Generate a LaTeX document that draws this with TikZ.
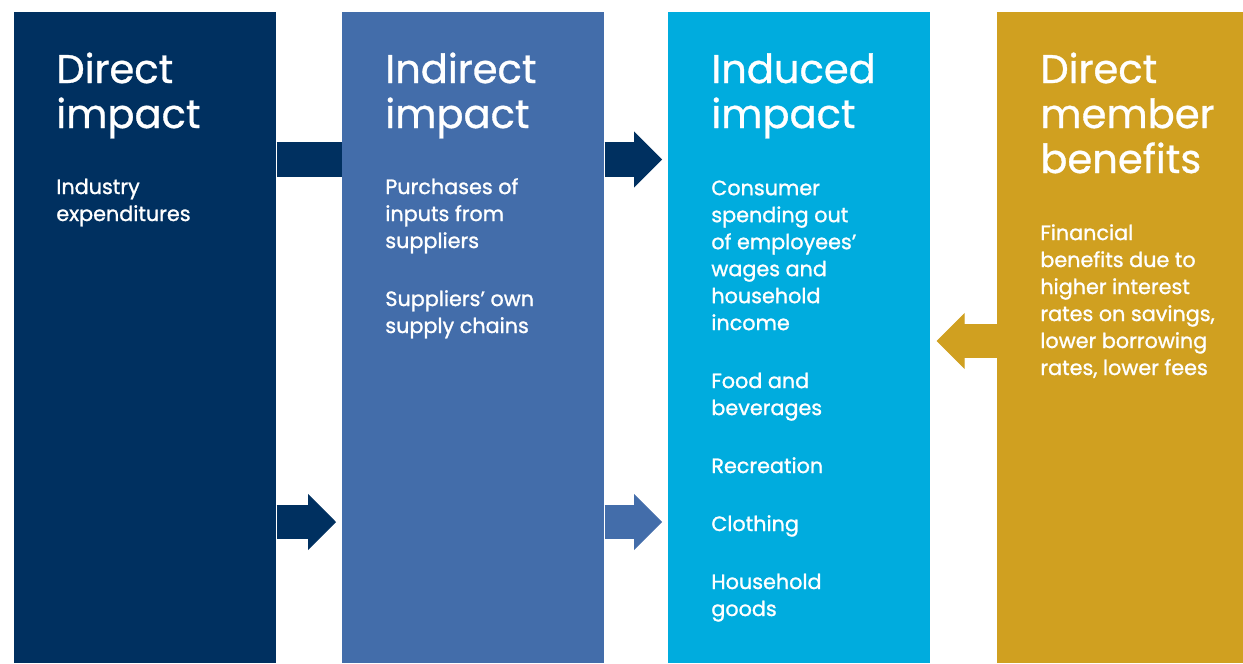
\documentclass[tikz,border=0pt]{standalone}
\usepackage{fontspec}
\setmainfont{Poppins}[FakeBold=0.8]
\newfontfamily\bodyfont{Poppins}[FakeBold=1.2]
\usetikzlibrary{arrows.meta}
\definecolor{navy}{RGB}{0,48,96}
\definecolor{midblue}{RGB}{67,109,170}
\definecolor{cyanblue}{RGB}{0,172,222}
\definecolor{gold}{RGB}{208,160,32}
\tikzset{
	column/.style={rectangle, anchor=north west, inner sep=0pt, minimum width=5.24cm, minimum height=13.02cm},
	heading/.style={anchor=base west, inner sep=0pt, align=left, text=white, font=\fontsize{22.8}{25.6}\selectfont},
	body/.style={anchor=base west, inner sep=0pt, align=left, text=white, font=\bodyfont\fontsize{11.8}{15.36}\selectfont},
	blockbar/.style={line width=0.69cm},
	blockarrow/.style={line width=0.69cm, -{Triangle[length=0.56cm,width=1.12cm,line width=0.6pt]}, shorten >=0.12cm}
}

\begin{document}
\begin{tikzpicture}[x=0.02cm, y=-0.02cm]
	\useasboundingbox (0,0) rectangle (1243,663);
	\node[column, fill=navy] (direct) at (14,12) {};
	\node[column, fill=midblue] (indirect) at (342,12) {};
	\node[column, fill=cyanblue] (induced) at (668,12) {};
	\node[column, fill=gold, minimum width=4.92cm] (member) at (997,12) {};
	\coordinate (upper) at (0,159.5);
	\coordinate (middle) at (0,341);
	\coordinate (lower) at (0,522);
	\draw[blockbar, navy] (direct.east |- upper) -- (indirect.west |- upper);
	\draw[blockarrow, navy] (indirect.east |- upper) -- (induced.west |- upper);
	\draw[blockarrow, navy] (direct.east |- lower) -- (indirect.west |- lower);
	\draw[blockarrow, midblue] (indirect.east |- lower) -- (induced.west |- lower);
	\draw[blockarrow, gold] (member.west |- middle) -- (induced.east |- middle);
	\node[heading] (directhead) at (56,128) {Direct\\impact};
	\node[heading] (indirecthead) at (385,128) {Indirect\\impact};
	\node[heading] (inducedhead) at (711,128) {Induced\\impact};
	\node[heading] (memberhead) at (1040,173) {Direct\\member\\benefits};
	\node[body] (directtext) at (56,221) {Industry\\expenditures};
	\node[body] (indirecttext) at (385,333) {Purchases of\\inputs from\\suppliers\\[0.62cm]Suppliers’ own\\supply chains};
	\node[body] (inducedtext) at (711,616) {Consumer\\spending out\\of employees’\\wages and\\household\\income\\[0.62cm]Food and\\beverages\\[0.62cm]Recreation\\[0.62cm]Clothing\\[0.62cm]Household\\goods};
	\node[body] (membertext) at (1040,375) {Financial\\benefits due to\\higher interest\\rates on savings,\\lower borrowing\\rates, lower fees};
\end{tikzpicture}
\end{document}
